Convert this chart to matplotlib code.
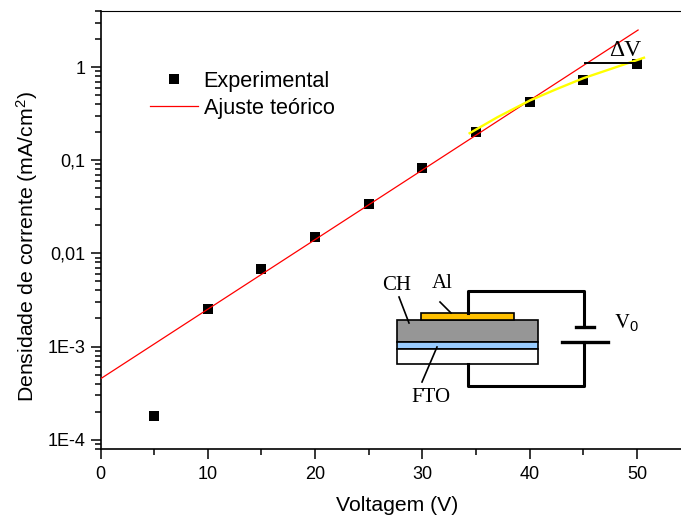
import matplotlib
matplotlib.use('Agg')
import matplotlib.pyplot as plt
from matplotlib.patches import Rectangle
from matplotlib.ticker import FixedLocator, FixedFormatter, NullFormatter

plt.rcParams['font.family'] = ['Liberation Sans', 'DejaVu Sans']
plt.rcParams['mathtext.default'] = 'regular'

# data
volt = [5, 10, 15, 20, 25, 30, 35, 40, 45, 50]
corrente = [1.8e-4, 2.5e-3, 6.8e-3, 0.015, 0.034, 0.082, 0.2, 0.42, 0.72, 1.08]
fit_x = [0, 50.1]
fit_y = [4.5e-4, 2.5]
curva_x = [34.4, 37, 40, 42.5, 45, 47.5, 50.65]
curva_y = [0.195, 0.29, 0.437, 0.58, 0.76, 0.95, 1.26]
y_ticks = [1e-4, 1e-3, 0.01, 0.1, 1]
y_labels = ['1E-4', '1E-3', '0,01', '0,1', '1']
x_ticks = [0, 10, 20, 30, 40, 50]

W, H = 681, 517
fig = plt.figure(figsize=(W / 100, H / 100), dpi=100)
left, right, top, bottom = 100.5, 681, 11, 448.7
ax = fig.add_axes([left / W, 1 - bottom / H, (right - left) / W, (bottom - top) / H])

ax.plot(volt, corrente, 's', color='black', ms=7.0, mew=0, label='Experimental', zorder=2)
ax.plot(fit_x, fit_y, color='#ff0000', lw=0.9, label='Ajuste te\u00f3rico', zorder=3)
ax.plot(curva_x, curva_y, color='#ffff00', lw=1.7, zorder=4)

ax.set_yscale('log')
ax.set_xlim(0, 54.1)
ax.set_ylim(8e-5, 4.0)
ax.yaxis.set_major_locator(FixedLocator(y_ticks))
ax.yaxis.set_major_formatter(FixedFormatter(y_labels))
minors = [m * 10.0 ** e for e in range(-5, 1) for m in range(2, 10)]
ax.yaxis.set_minor_locator(FixedLocator(minors))
ax.yaxis.set_minor_formatter(NullFormatter())
ax.xaxis.set_major_locator(FixedLocator(x_ticks))
ax.xaxis.set_minor_locator(FixedLocator([5, 15, 25, 35, 45]))

ax.spines['right'].set_visible(False)
ax.spines['left'].set_linewidth(1.2)
ax.spines['bottom'].set_linewidth(1.2)
ax.spines['top'].set_linewidth(0.8)
ax.tick_params(which='major', length=7.5, width=1.1, labelsize=13)
ax.tick_params(axis='x', which='major', pad=5)
ax.tick_params(axis='y', which='major', pad=3.5)
ax.tick_params(which='minor', length=4, width=1.1)

ax.set_xlabel('Voltagem (V)', fontsize=15.2)
ax.xaxis.set_label_coords((397 - left) / (right - left), -0.107)
ax.set_ylabel('Densidade de corrente (mA/cm$^2$)', fontsize=15.3)
ax.yaxis.set_label_coords((40 - left) / (right - left), (bottom - 247) / (bottom - top))

handles, labels = ax.get_legend_handles_labels()
ax.legend(handles, labels, loc='upper left', frameon=False, fontsize=15.6,
          bbox_to_anchor=((150 - left) / (right - left), (bottom - 71) / (bottom - top)),
          borderpad=0, borderaxespad=0, handlelength=2.2, handletextpad=0.28, labelspacing=0.26)

# inset drawing, in pixel coordinates
ov = fig.add_axes([0, 0, 1, 1], zorder=5)
ov.set_xlim(0, W)
ov.set_ylim(H, 0)
ov.axis('off')
ov.patch.set_alpha(0)

for x0, y0, x1, y1, cor in [(397, 320, 538, 342, '#969696'), (397, 342, 538, 349, '#99ccff'),
                            (397, 349, 538, 364, 'white'), (421, 313, 514, 320, '#ffc000')]:
    ov.add_patch(Rectangle((x0, y0), x1 - x0, y1 - y0, fc=cor, ec='black', lw=1.2))

ov.plot([468, 468, 584, 584], [313, 291, 291, 327], color='black', lw=2.2, solid_joinstyle='round')
ov.plot([584, 584, 468, 468], [342, 386, 386, 364], color='black', lw=2.2, solid_joinstyle='round')
ov.plot([576, 594], [327, 327], color='black', lw=2.4)
ov.plot([562, 608], [342, 342], color='black', lw=2.4)
for xs, ys in [((399, 409), (297, 323)), ((440, 451), (302, 313)), ((422, 437), (382, 347))]:
    ov.plot(xs, ys, color='black', lw=1.2)
ov.plot([585, 637], [63, 63], color='black', lw=1.4)

serif = ['Liberation Serif', 'DejaVu Serif']
ov.text(397, 285, 'CH', family=serif, fontsize=15, ha='center', va='center')
ov.text(442, 284, 'Al', family=serif, fontsize=15, ha='center', va='center')
ov.text(431, 398, 'FTO', family=serif, fontsize=15, ha='center', va='center')
ov.text(614, 323, r'$\mathrm{V}_{0}$', fontsize=15, ha='left', va='center', math_fontfamily='stix')
ov.text(625, 51, '\u0394V', family=serif, fontsize=17, ha='center', va='center')

fig.savefig('out.png', dpi=100)
